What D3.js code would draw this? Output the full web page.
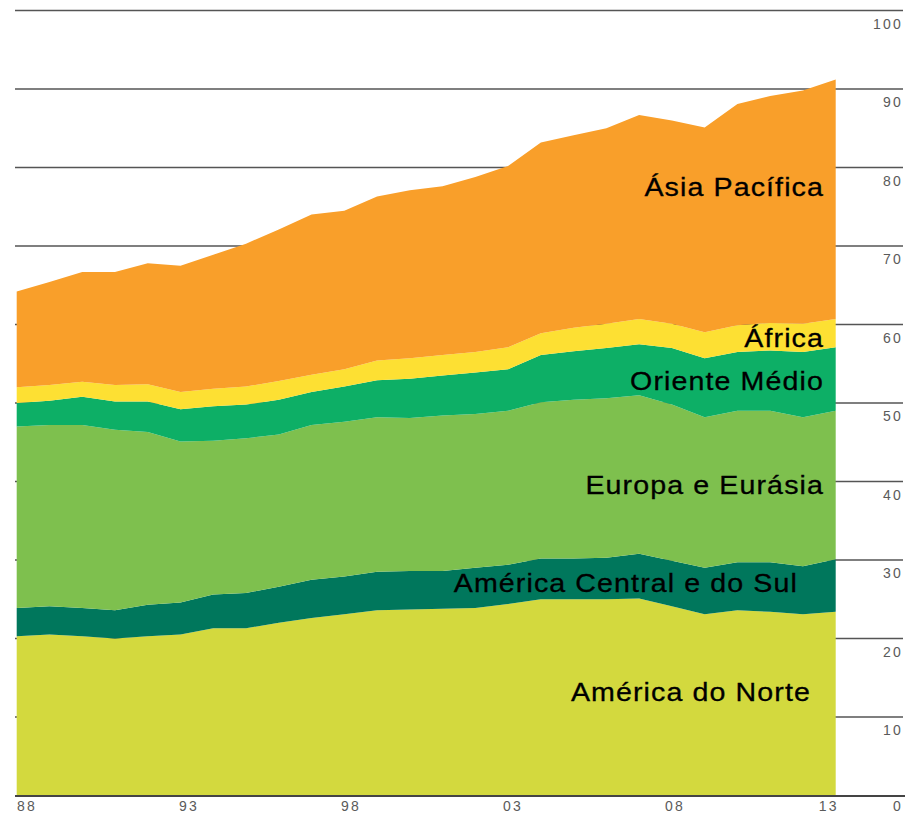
<!DOCTYPE html>
<html>
<head>
<meta charset="utf-8">
<script src="https://cdn.jsdelivr.net/npm/d3@7"></script>
<style>
    html, body { margin: 0; padding: 0; background: #fff; }
    svg { display: block; }
</style>
</head>
<body>
<div class="chart"></div>
<script>
// consumo por região, 1988-2013
var years = [1988, 1989, 1990, 1991, 1992, 1993, 1994, 1995, 1996, 1997, 1998, 1999, 2000,
             2001, 2002, 2003, 2004, 2005, 2006, 2007, 2008, 2009, 2010, 2011, 2012, 2013];

var americaDoNorte = [20.3, 20.5, 20.3, 20.0, 20.3, 20.5, 21.3, 21.3, 22.0, 22.6, 23.1, 23.6, 23.7,
                      23.8, 23.9, 24.4, 25.0, 25.0, 25.0, 25.1, 24.1, 23.1, 23.6, 23.4, 23.1, 23.4];
var americaCentralSul = [3.6, 3.6, 3.6, 3.6, 4.0, 4.1, 4.3, 4.5, 4.6, 4.9, 4.8, 4.9, 4.9,
                         4.8, 5.1, 5.0, 5.2, 5.2, 5.3, 5.7, 5.8, 5.9, 6.1, 6.3, 6.1, 6.7];
var europaEurasia = [23.1, 23.1, 23.3, 23.0, 22.0, 20.5, 19.6, 19.7, 19.4, 19.7, 19.7, 19.7, 19.5,
                     19.8, 19.6, 19.6, 19.9, 20.2, 20.3, 20.2, 19.9, 19.2, 19.3, 19.3, 19.0, 18.9];
var orienteMedio = [3.0, 3.1, 3.6, 3.6, 3.9, 4.1, 4.4, 4.3, 4.4, 4.2, 4.5, 4.7, 5.0,
                    5.1, 5.3, 5.3, 6.0, 6.2, 6.4, 6.5, 7.2, 7.5, 7.5, 7.7, 8.3, 8.1];
var africa = [2.0, 2.0, 1.9, 2.1, 2.2, 2.2, 2.2, 2.3, 2.4, 2.2, 2.2, 2.5, 2.6,
              2.6, 2.6, 2.8, 2.8, 3.0, 3.1, 3.2, 3.1, 3.3, 3.4, 3.5, 3.6, 3.6];
var asiaPacifico = [12.2, 13.1, 14.0, 14.4, 15.4, 16.1, 17.1, 18.2, 19.3, 20.4, 20.2, 20.9, 21.4,
                    21.5, 22.3, 23.1, 24.3, 24.5, 24.9, 26.0, 25.9, 26.1, 28.2, 28.9, 29.7, 30.5];

var seriesKeys = ["na", "csa", "eu", "me", "af", "ap"];
var seriesNames = ["América do Norte", "América Central e do Sul", "Europa e Eurásia",
                   "Oriente Médio", "África", "Ásia Pacífica"];
var seriesColors = ["#d3d93e", "#00775c", "#7ec04e", "#0daf66", "#fde033", "#f99f2a"];

var xTickYears = [1988, 1993, 1998, 2003, 2008, 2013];
var xTickLabels = ["88", "93", "98", "03", "08", "13"];
var yTicks = [0, 10, 20, 30, 40, 50, 60, 70, 80, 90, 100];

var table = years.map(function (yr, i) {
    return {
        year: yr,
        na: americaDoNorte[i],
        csa: americaCentralSul[i],
        eu: europaEurasia[i],
        me: orienteMedio[i],
        af: africa[i],
        ap: asiaPacifico[i]
    };
});

var width = 905, height = 816;

var x = d3.scaleLinear().domain([1988, 2013]).range([16.7, 835.7]);
var y = d3.scaleLinear().domain([0, 100]).range([795.5, 10.5]);
// tick labels sit a bit inside the plot ends
var xLabel = d3.scaleLinear().domain([1988, 2008]).range([27, 675]);

var svg = d3.select(".chart")
        .append("svg")
        .attr("width", width)
        .attr("height", height);

// grid lines (behind areas)
svg.append("g")
        .selectAll("line")
        .data(yTicks.filter(function (d) { return d > 0; }))
        .enter()
        .append("line")
        .attr("x1", 15)
        .attr("x2", 903)
        .attr("y1", function (d) { return y(d); })
        .attr("y2", function (d) { return y(d); })
        .attr("stroke", "#555")
        .attr("stroke-width", 1.4);

var stack = d3.stack().keys(seriesKeys);
var layers = stack(table);

var area = d3.area()
        .x(function (d) { return x(d.data.year); })
        .y0(function (d) { return y(d[0]); })
        .y1(function (d) { return y(d[1]); });

svg.append("g")
        .selectAll("path")
        .data(layers)
        .enter()
        .append("path")
        .attr("d", area)
        .attr("fill", function (d, i) { return seriesColors[i]; });

// base line
svg.append("line")
        .attr("x1", 15)
        .attr("x2", 905)
        .attr("y1", y(0) + 0.5)
        .attr("y2", y(0) + 0.5)
        .attr("stroke", "#444")
        .attr("stroke-width", 2);

// y labels, right side, under each line
svg.append("g")
        .selectAll("text")
        .data(yTicks)
        .enter()
        .append("text")
        .attr("x", 903)
        .attr("y", function (d) { return d === 0 ? 811 : y(d) + 18; })
        .attr("text-anchor", "end")
        .attr("font-family", "Liberation Sans, Arial, sans-serif")
        .attr("font-size", 14)
        .attr("letter-spacing", 2.2)
        .attr("fill", "#5a5a5a")
        .text(function (d) { return d; });

// x labels
svg.append("g")
        .selectAll("text")
        .data(xTickYears)
        .enter()
        .append("text")
        .attr("x", function (d) { return d === 2013 ? x(d) + 3 : xLabel(d); })
        .attr("y", 811)
        .attr("text-anchor", function (d) { return d === 2013 ? "end" : "middle"; })
        .attr("font-family", "Liberation Sans, Arial, sans-serif")
        .attr("font-size", 14)
        .attr("letter-spacing", 2.2)
        .attr("fill", "#5a5a5a")
        .text(function (d, i) { return xTickLabels[i]; });

// region names inside the bands
var nameRight = [810, 797, 823, 823, 823, 823];
var nameBase = [701, 592, 494, 390, 347, 196];

svg.append("g")
        .selectAll("text")
        .data(seriesNames)
        .enter()
        .append("text")
        .attr("transform", function (d, i) {
            return "translate(" + (nameRight[i] + 1) + "," + nameBase[i] + ") scale(1.1,1)";
        })
        .attr("text-anchor", "end")
        .attr("font-family", "Liberation Sans, Arial, sans-serif")
        .attr("font-size", 26)
        .attr("letter-spacing", 1)
        .attr("fill", "#000")
        .attr("stroke", "#000")
        .attr("stroke-width", 0.3)
        .text(function (d) { return d; });
</script>
</body>
</html>
